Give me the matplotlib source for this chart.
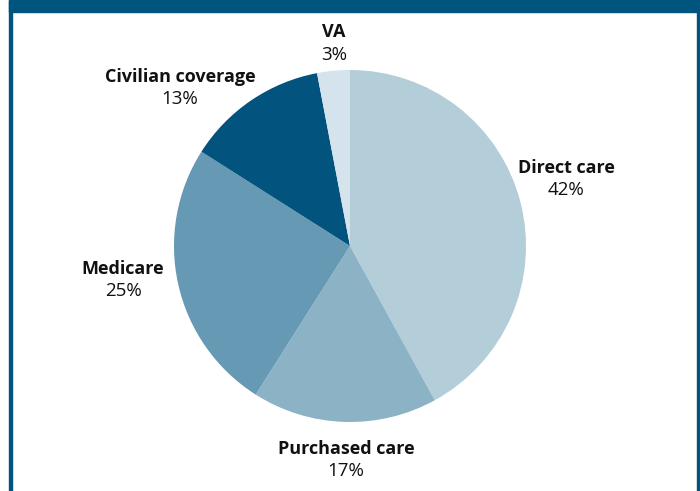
import matplotlib
matplotlib.use("Agg")
import matplotlib.pyplot as plt
from matplotlib.patches import Rectangle

categories = ["Direct care", "Purchased care", "Medicare", "Civilian coverage", "VA"]
shares = [42, 17, 25, 13, 3]
colors = ["#b3cdd9", "#8cb2c6", "#6699b4", "#02547f", "#d5e3ec"]

# label centres in pixels (name, percent) -- layout only
label_px = {
    "Direct care": ((566, 168), (566, 190)),
    "Purchased care": ((346, 449), (346, 471)),
    "Medicare": ((123, 269), (123, 291)),
    "Civilian coverage": ((180, 77), (180, 99)),
    "VA": ((334, 32), (334, 55)),
}

W, H = 700, 491
CX, CY, R = 350, 246, 176

fig = plt.figure(figsize=(7, 4.91), dpi=100)
fig.patch.set_facecolor("white")
ax = fig.add_axes([0, 0, 1, 1])

ax.pie(shares, colors=colors, startangle=90, counterclock=False, radius=1,
       wedgeprops=dict(linewidth=0))
ax.set_aspect("auto")
ax.set_xlim(-CX / R, (W - CX) / R)
ax.set_ylim(-(H - CY) / R, CY / R)
ax.axis("off")

def to_data(p):
    return (p[0] - CX) / R, (CY - p[1]) / R

font = "Open Sans"
for cat, val in zip(categories, shares):
    (n, p) = label_px[cat]
    x, y = to_data(n)
    ax.text(x, y, cat, ha="center", va="center", fontsize=13, fontweight="bold",
            family=font, color="#111111")
    x, y = to_data(p)
    ax.text(x, y, f"{val}%", ha="center", va="center", fontsize=13.5,
            family=font, color="#111111")

# frame: top band and side borders
frame = "#00557f"
fig.patches.append(Rectangle((9 / W, 1 - 12 / H), 1 - 9 / W, 12 / H,
                             transform=fig.transFigure, color=frame, zorder=5))
fig.patches.append(Rectangle((9 / W, 0), 3 / W, 1, transform=fig.transFigure,
                             color=frame, zorder=5))
fig.patches.append(Rectangle((697 / W, 0), 3 / W, 1, transform=fig.transFigure,
                             color=frame, zorder=5))

fig.savefig("out.png", dpi=100)
